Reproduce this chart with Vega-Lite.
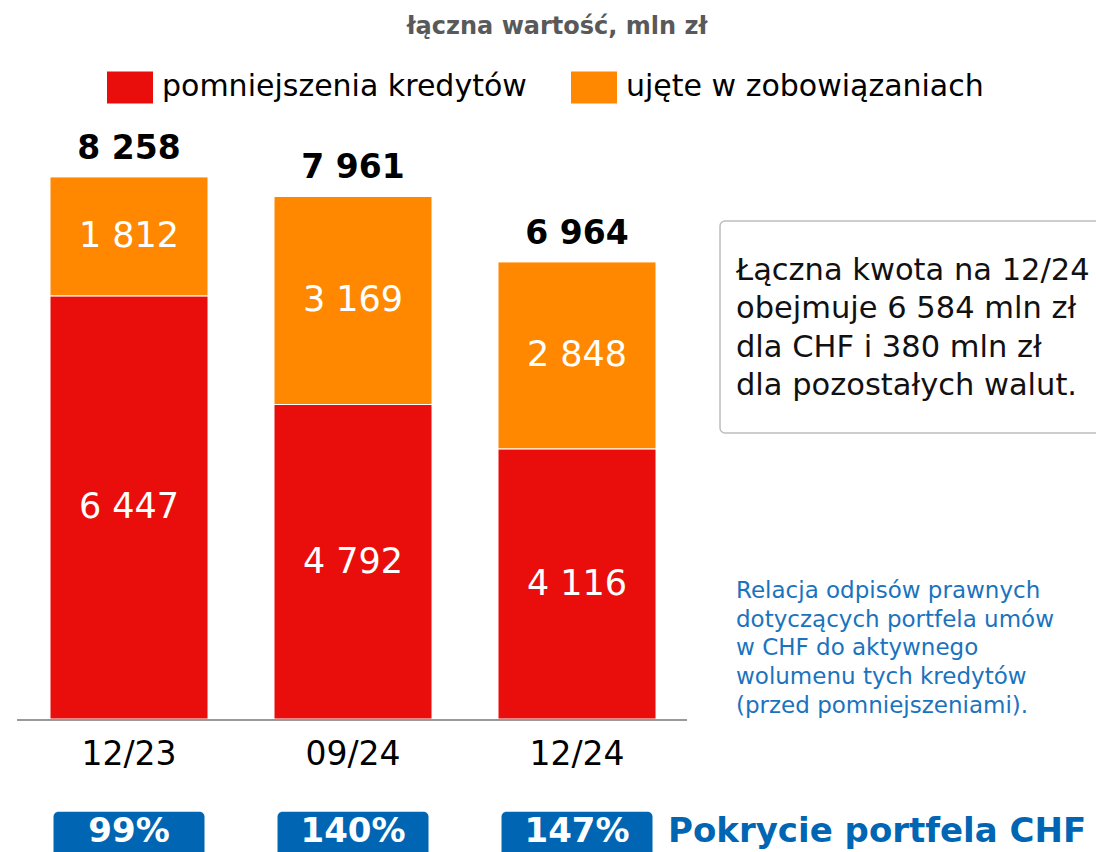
{
  "$schema": "https://vega.github.io/schema/vega-lite/v6.json",
  "width": 1096,
  "height": 852,
  "autosize": {"type": "none"},
  "padding": 0,
  "config": {
    "view": {"stroke": null},
    "font": "DejaVu Sans",
    "locale": {"number": {"decimal": ",", "thousands": " ", "grouping": [3], "currency": ["", " zł"]}}
  },
  "datasets": {
    "segments": [
      {"okres": "12/23", "seria": "pomniejszenia kredytów", "wartosc": 6447},
      {"okres": "12/23", "seria": "ujęte w zobowiązaniach", "wartosc": 1812},
      {"okres": "09/24", "seria": "pomniejszenia kredytów", "wartosc": 4792},
      {"okres": "09/24", "seria": "ujęte w zobowiązaniach", "wartosc": 3169},
      {"okres": "12/24", "seria": "pomniejszenia kredytów", "wartosc": 4116},
      {"okres": "12/24", "seria": "ujęte w zobowiązaniach", "wartosc": 2848}
    ],
    "totals": [
      {"okres": "12/23", "suma": 8258, "pokrycie": 0.99},
      {"okres": "09/24", "suma": 7961, "pokrycie": 1.40},
      {"okres": "12/24", "suma": 6964, "pokrycie": 1.47}
    ]
  },
  "layer": [
    {
      "data": {"name": "segments"},
      "transform": [
        {"stack": "wartosc", "groupby": ["okres"], "sort": [{"field": "seria", "order": "ascending"}], "as": ["v0", "v1"]}
      ],
      "mark": {"type": "bar", "stroke": "white", "strokeWidth": 1},
      "encoding": {
        "x": {
          "field": "okres", "type": "nominal", "axis": null,
          "scale": {"domain": ["12/23", "09/24", "12/24", "note"], "paddingInner": 0.2946, "paddingOuter": 0.5937, "align": 0.188}
        },
        "y": {
          "field": "v1", "type": "quantitative", "axis": null,
          "scale": {"domain": [-2026.4, 10954.8], "nice": false, "zero": false}
        },
        "y2": {"field": "v0"},
        "color": {
          "field": "seria", "type": "nominal",
          "scale": {"domain": ["pomniejszenia kredytów", "ujęte w zobowiązaniach"], "range": ["#E90E0B", "#FF8800"]},
          "legend": {
            "orient": "none", "legendX": 107, "legendY": 64, "direction": "horizontal", "title": null,
            "symbolType": "M-1,-0.696H1V0.696H-1Z", "symbolSize": 2116, "symbolStrokeWidth": 0, "symbolOpacity": 1,
            "labelFontSize": 30, "labelFont": "DejaVu Sans", "labelColor": "#000000", "labelOffset": 9, "labelLimit": 600,
            "columnPadding": 44, "padding": 0
          }
        }
      }
    },
    {
      "data": {"name": "segments"},
      "transform": [
        {"stack": "wartosc", "groupby": ["okres"], "sort": [{"field": "seria", "order": "ascending"}], "as": ["v0", "v1"]},
        {"calculate": "(datum.v0 + datum.v1) / 2", "as": "srodek"}
      ],
      "mark": {"type": "text", "color": "white", "fontSize": 35, "baseline": "middle", "align": "center"},
      "encoding": {
        "x": {"field": "okres", "type": "nominal", "axis": null},
        "y": {"field": "srodek", "type": "quantitative", "axis": null},
        "text": {"field": "wartosc", "type": "quantitative", "format": ",d"}
      }
    },
    {
      "data": {"name": "totals"},
      "mark": {"type": "text", "color": "black", "fontSize": 33, "fontWeight": "bold", "baseline": "middle", "align": "center", "dy": -28},
      "encoding": {
        "x": {"field": "okres", "type": "nominal", "axis": null},
        "y": {"field": "suma", "type": "quantitative", "axis": null},
        "text": {"field": "suma", "type": "quantitative", "format": ",d"}
      }
    },
    {
      "data": {"name": "totals"},
      "mark": {"type": "text", "color": "black", "fontSize": 33, "baseline": "middle", "align": "center"},
      "encoding": {
        "x": {"field": "okres", "type": "nominal", "axis": null},
        "y": {"datum": -548.5, "type": "quantitative", "axis": null},
        "text": {"field": "okres", "type": "nominal"}
      }
    },
    {
      "data": {"name": "totals"},
      "mark": {"type": "bar", "color": "#0066B3", "width": 151, "cornerRadius": 5},
      "encoding": {
        "x": {"field": "okres", "type": "nominal", "axis": null},
        "y": {"datum": -1413, "type": "quantitative", "axis": null},
        "y2": {"datum": -2150}
      }
    },
    {
      "data": {"name": "totals"},
      "mark": {"type": "text", "color": "white", "fontSize": 34, "fontWeight": "bold", "baseline": "middle", "align": "center"},
      "encoding": {
        "x": {"field": "okres", "type": "nominal", "axis": null},
        "y": {"datum": -1729, "type": "quantitative", "axis": null},
        "text": {"field": "pokrycie", "type": "quantitative", "format": ".0%"}
      }
    },
    {
      "data": {"values": [{}]},
      "mark": {"type": "rule", "color": "#999999", "strokeWidth": 2, "xOffset": -33, "x2Offset": 31, "yOffset": 1},
      "encoding": {
        "x": {"datum": "12/23", "type": "nominal", "bandPosition": 0, "axis": null},
        "x2": {"datum": "12/24", "bandPosition": 1},
        "y": {"datum": 0, "type": "quantitative", "axis": null}
      }
    },
    {
      "data": {"values": [{}]},
      "mark": {"type": "text", "text": "łączna wartość, mln zł", "color": "#595959", "fontSize": 24, "fontWeight": "bold", "baseline": "middle", "align": "center", "dx": 204},
      "encoding": {
        "x": {"datum": "09/24", "type": "nominal", "axis": null},
        "y": {"datum": 10543, "type": "quantitative", "axis": null}
      }
    },
    {
      "data": {"values": [{}]},
      "mark": {"type": "bar", "fill": "white", "stroke": "#BDBDBD", "strokeWidth": 1.5, "cornerRadius": 5, "width": 600, "xOffset": 219},
      "encoding": {
        "x": {"datum": "note", "type": "nominal", "axis": null},
        "y": {"datum": 7588, "type": "quantitative", "axis": null},
        "y2": {"datum": 4358}
      }
    },
    {
      "data": {"values": [{}]},
      "mark": {"type": "text", "text": ["Łączna kwota na 12/24", "obejmuje 6 584 mln zł", "dla CHF i 380 mln zł", "dla pozostałych walut."], "color": "#111111", "fontSize": 30.5, "lineHeight": 38.3, "baseline": "middle", "align": "left", "dx": 14},
      "encoding": {
        "x": {"datum": "note", "type": "nominal", "bandPosition": 0, "axis": null},
        "y": {"datum": 6826, "type": "quantitative", "axis": null}
      }
    },
    {
      "data": {"values": [{}]},
      "mark": {"type": "text", "text": ["Relacja odpisów prawnych", "dotyczących portfela umów", "w CHF do aktywnego", "wolumenu tych kredytów", "(przed pomniejszeniami)."], "color": "#1A73BD", "fontSize": 23, "lineHeight": 28.7, "baseline": "middle", "align": "left", "dx": 14},
      "encoding": {
        "x": {"datum": "note", "type": "nominal", "bandPosition": 0, "axis": null},
        "y": {"datum": 1950, "type": "quantitative", "axis": null}
      }
    },
    {
      "data": {"values": [{}]},
      "mark": {"type": "text", "text": "Pokrycie portfela CHF", "color": "#0066B3", "fontSize": 34, "fontWeight": "bold", "baseline": "middle", "align": "left", "dx": 12},
      "encoding": {
        "x": {"datum": "12/24", "type": "nominal", "bandPosition": 1, "axis": null},
        "y": {"datum": -1729, "type": "quantitative", "axis": null}
      }
    }
  ]
}
